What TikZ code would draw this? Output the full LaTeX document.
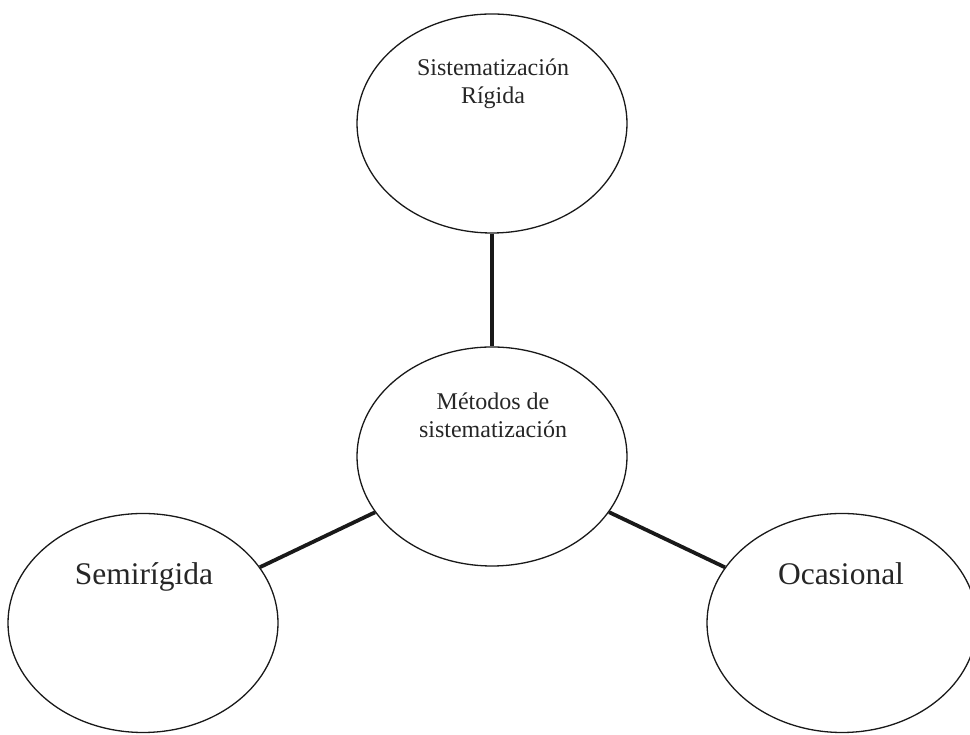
\documentclass[tikz,border=0pt]{standalone}
\usepackage{fontspec}
\setmainfont{Liberation Serif}
\usetikzlibrary{shapes.geometric}
\begin{document}
\begin{tikzpicture}[x=1pt,y=1pt,
  bubble/.style={ellipse,draw=black!90,line width=1.3pt,minimum width=270pt,minimum height=219pt,inner sep=0pt},
  link/.style={draw=black!90,line width=3.8pt},
  smalltext/.style={font=\fontsize{24}{28}\selectfont,align=center,inner sep=0pt,anchor=base,text=black!85},
  bigtext/.style={font=\fontsize{31.5}{36}\selectfont,inner sep=0pt,anchor=base,text=black!85}]
\useasboundingbox (0,0) rectangle (970,735);
\node[bubble] (top) at (492,611.5) {};
\node[bubble] (mid) at (492,278.5) {};
\node[bubble] (left) at (143,112) {};
\node[bubble] (right) at (842,112) {};
\path[link] (top) -- (mid);
\path[link] (mid) -- (left);
\path[link] (mid) -- (right);
\node[smalltext] (toptext) at (493,631) {Sistematización\\Rígida};
\node[smalltext] (midtext) at (493,297) {Métodos de\\sistematización};
\node[bigtext] (lefttext) at (144,150) {Semirígida};
\node[bigtext] (righttext) at (841,150) {Ocasional};
\end{tikzpicture}
\end{document}
